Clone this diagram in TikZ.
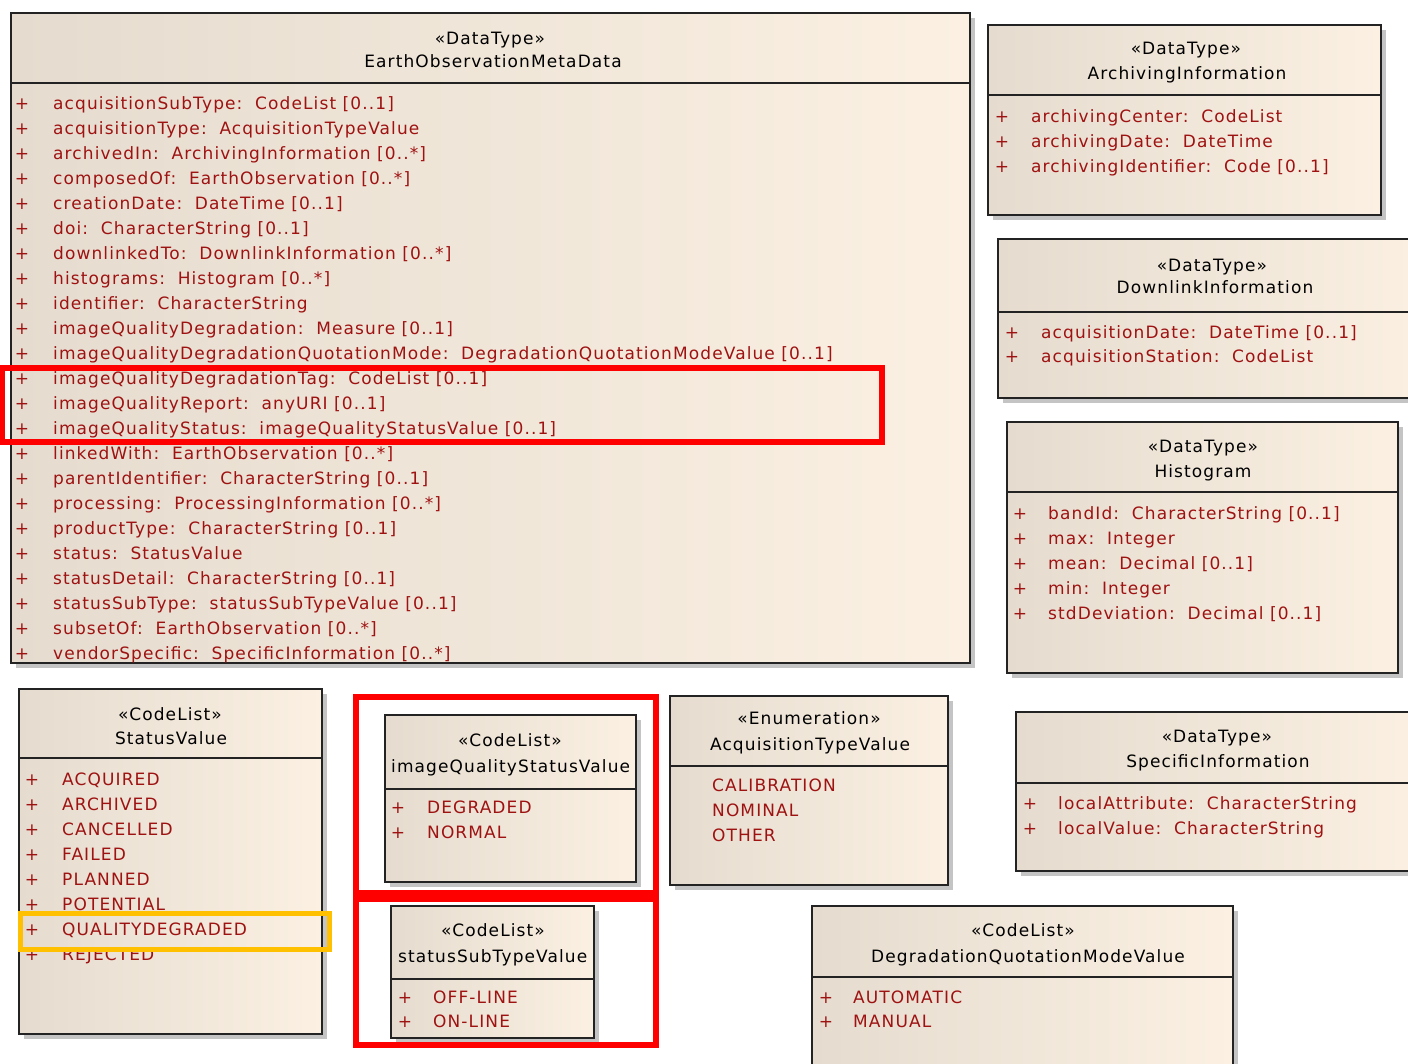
\documentclass[tikz,border=0pt]{standalone}
\usepackage{fontspec}
\setmainfont{DejaVu Sans}
\newfontfamily\umlfont[LetterSpace=6.5]{DejaVu Sans}
\usetikzlibrary{fit}
\definecolor{attr}{RGB}{158,18,18}
\definecolor{fillL}{RGB}{229,220,207}
\definecolor{fillR}{RGB}{251,240,226}
\definecolor{bord}{RGB}{35,35,35}
\definecolor{shad}{RGB}{196,196,196}
\definecolor{hlred}{RGB}{255,0,0}
\definecolor{hlorange}{RGB}{255,192,0}
\tikzset{
  txt/.style={inner sep=0pt, font=\umlfont\fontsize{17}{20}\selectfont, text height=13pt, text depth=1pt},
  attrtxt/.style={txt, text=attr, anchor=west},
  plustxt/.style={txt, text=attr, anchor=center},
  titletxt/.style={txt, text=black, anchor=center},
  boxborder/.style={draw=bord, line width=2pt, inner sep=0pt},
  hlbox/.style={draw=hlred, line width=6pt, inner sep=0pt},
  hlobox/.style={draw=hlorange, line width=5pt, inner sep=0pt},
}
% name, x1, y1, x2, y2, ysep
\newcommand{\umlbox}[6]{%
  \fill[shad] (#2+5,#3+5) rectangle (#4+5,#5+5);
  \shade[left color=fillL, right color=fillR] (#2,#3) rectangle (#4,#5);
  \coordinate (#1-nw) at (#2,#3);
  \coordinate (#1-se) at (#4,#5);
  \node[boxborder, fit=(#1-nw)(#1-se)] (#1) {};
  \draw[bord, line width=2pt] (#1.west |- 0,#6) -- (#1.east |- 0,#6);
}
% prefix, plusx, textx, y0, dy, list
\newcommand{\attrlist}[6]{%
  \foreach \t [count=\i] in {#6} {
    \node[plustxt] (#1-p\i) at (#2,#4+#5*\i-#5) {+};
    \node[attrtxt] (#1-a\i) at (#3,#4+#5*\i-#5) {\t};
  }
}
\newcommand{\colsp}{\hspace{0.75em}}
\begin{document}
\begin{tikzpicture}[x=1pt,y=-1pt]
\useasboundingbox (0,0) rectangle (1408,1063);
\clip (0,0) rectangle (1408,1063);

% ---------- EarthObservationMetaData
\umlbox{eo}{11}{13}{970}{663}{83}
\node[titletxt] (eo-st) at (490,38) {«DataType»};
\node[titletxt] (eo-nm) at (493,61) {EarthObservationMetaData};
\begin{scope}
\clip (12,84) rectangle (969,662);
\attrlist{eo}{22}{53}{103}{25.045}{
{acquisitionSubType:\colsp CodeList [0..1]},
{acquisitionType:\colsp AcquisitionTypeValue},
{archivedIn:\colsp ArchivingInformation [0..*]},
{composedOf:\colsp EarthObservation [0..*]},
{creationDate:\colsp DateTime [0..1]},
{doi:\colsp CharacterString [0..1]},
{downlinkedTo:\colsp DownlinkInformation [0..*]},
{histograms:\colsp Histogram [0..*]},
{identifier:\colsp CharacterString},
{imageQualityDegradation:\colsp Measure [0..1]},
{imageQualityDegradationQuotationMode:\colsp DegradationQuotationModeValue [0..1]},
{imageQualityDegradationTag:\colsp CodeList [0..1]},
{imageQualityReport:\colsp anyURI [0..1]},
{imageQualityStatus:\colsp imageQualityStatusValue [0..1]},
{linkedWith:\colsp EarthObservation [0..*]},
{parentIdentifier:\colsp CharacterString [0..1]},
{processing:\colsp ProcessingInformation [0..*]},
{productType:\colsp CharacterString [0..1]},
{status:\colsp StatusValue},
{statusDetail:\colsp CharacterString [0..1]},
{statusSubType:\colsp statusSubTypeValue [0..1]},
{subsetOf:\colsp EarthObservation [0..*]},
{vendorSpecific:\colsp SpecificInformation [0..*]}}
\end{scope}

% ---------- ArchivingInformation
\umlbox{ai}{988}{25}{1381}{215}{95}
\node[titletxt] (ai-st) at (1186,48) {«DataType»};
\node[titletxt] (ai-nm) at (1187,73) {ArchivingInformation};
\attrlist{ai}{1002}{1031}{116}{25}{
{archivingCenter:\colsp CodeList},
{archivingDate:\colsp DateTime},
{archivingIdentifier:\colsp Code [0..1]}}

% ---------- DownlinkInformation
\umlbox{di}{998}{239}{1432}{398}{312}
\node[titletxt] (di-st) at (1212,265) {«DataType»};
\node[titletxt] (di-nm) at (1215,287) {DownlinkInformation};
\attrlist{di}{1012}{1041}{332}{24}{
{acquisitionDate:\colsp DateTime [0..1]},
{acquisitionStation:\colsp CodeList}}

% ---------- Histogram
\umlbox{hi}{1007}{422}{1398}{673}{492}
\node[titletxt] (hi-st) at (1203,446) {«DataType»};
\node[titletxt] (hi-nm) at (1203,471) {Histogram};
\attrlist{hi}{1020}{1048}{513}{25}{
{bandId:\colsp CharacterString [0..1]},
{max:\colsp Integer},
{mean:\colsp Decimal [0..1]},
{min:\colsp Integer},
{stdDeviation:\colsp Decimal [0..1]}}

% ---------- StatusValue
\umlbox{sv}{19}{689}{322}{1034}{758}
\node[titletxt] (sv-st) at (170,714) {«CodeList»};
\node[titletxt] (sv-nm) at (171,738) {StatusValue};
\attrlist{sv}{32}{62}{779}{25.1}{
ACQUIRED, ARCHIVED, CANCELLED, FAILED, PLANNED, POTENTIAL, QUALITYDEGRADED, REJECTED}

% ---------- imageQualityStatusValue
\umlbox{iq}{385}{715}{636}{882}{789}
\node[titletxt] (iq-st) at (510,740) {«CodeList»};
\begin{scope}
\clip (386,716) rectangle (635,788);
\node[titletxt, anchor=west] (iq-nm) at (391,766) {imageQualityStatusValue};
\end{scope}
\attrlist{iq}{398}{427}{807}{25}{DEGRADED, NORMAL}

% ---------- statusSubTypeValue
\umlbox{ss}{391}{906}{594}{1038}{979}
\node[titletxt] (ss-st) at (493,930) {«CodeList»};
\begin{scope}
\clip (392,907) rectangle (593,978);
\node[titletxt, anchor=west] (ss-nm) at (398,956) {statusSubTypeValue};
\end{scope}
\attrlist{ss}{405}{433}{997}{24}{OFF-LINE, ON-LINE}

% ---------- AcquisitionTypeValue
\umlbox{at}{670}{696}{948}{885}{766}
\node[titletxt] (at-st) at (809,718) {«Enumeration»};
\node[titletxt] (at-nm) at (810,744) {AcquisitionTypeValue};
\node[attrtxt] (at-a1) at (712,785) {CALIBRATION};
\node[attrtxt] (at-a2) at (712,810) {NOMINAL};
\node[attrtxt] (at-a3) at (712,835) {OTHER};

% ---------- SpecificInformation
\umlbox{si}{1016}{712}{1422}{871}{783}
\node[titletxt] (si-st) at (1217,736) {«DataType»};
\node[titletxt] (si-nm) at (1218,761) {SpecificInformation};
\attrlist{si}{1030}{1058}{803}{25}{
{localAttribute:\colsp CharacterString},
{localValue:\colsp CharacterString}}

% ---------- DegradationQuotationModeValue
\umlbox{dq}{812}{906}{1233}{1090}{977}
\node[titletxt] (dq-st) at (1023,930) {«CodeList»};
\node[titletxt] (dq-nm) at (1028,956) {DegradationQuotationModeValue};
\attrlist{dq}{826}{853}{997}{24}{AUTOMATIC, MANUAL}

% ---------- highlights
\coordinate (h1a) at (2,368);  \coordinate (h1b) at (882,442);
\node[hlbox, fit=(h1a)(h1b)] (hl1) {};
\coordinate (h2a) at (356,697); \coordinate (h2b) at (656,893);
\node[hlbox, fit=(h2a)(h2b)] (hl2) {};
\coordinate (h3a) at (356,899); \coordinate (h3b) at (656,1045);
\node[hlbox, fit=(h3a)(h3b)] (hl3) {};
\coordinate (h4a) at (20,913); \coordinate (h4b) at (329,949);
\node[hlobox, fit=(h4a)(h4b)] (hl4) {};
\end{tikzpicture}
\end{document}
